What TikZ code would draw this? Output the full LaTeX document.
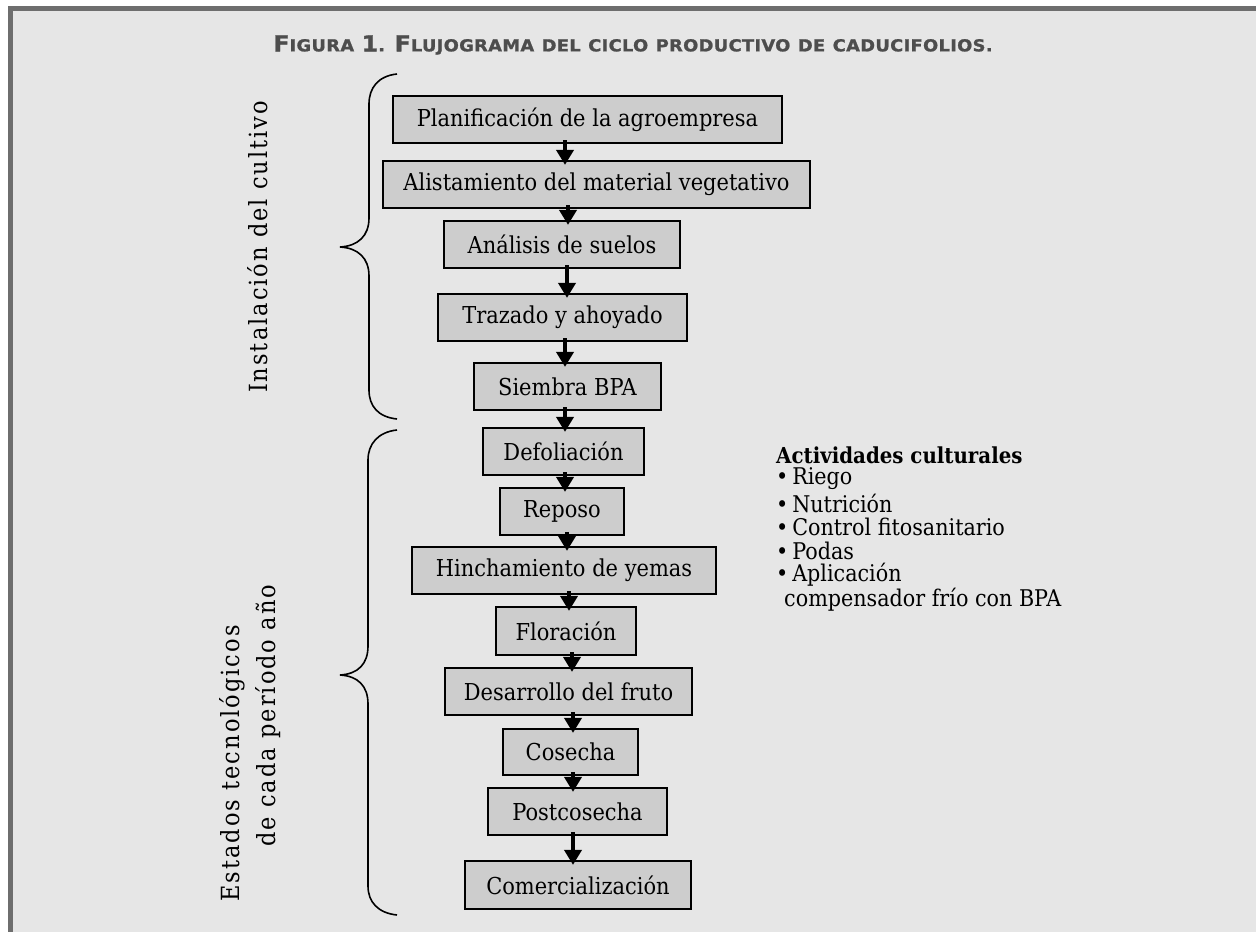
\documentclass[tikz,border=0pt]{standalone}
\usepackage{fontspec}
\setmainfont{DejaVu Serif}[FakeStretch=0.9]
\newfontfamily\titlefont{DejaVu Sans Bold}[FakeStretch=1.08,FakeBold=1.2,LetterSpace=2]
\newfontfamily\sidefont{DejaVu Serif}[FakeStretch=0.9,LetterSpace=8]
\usetikzlibrary{arrows.meta}
\definecolor{bg}{HTML}{E6E6E6}
\definecolor{framec}{HTML}{6E6E6E}
\definecolor{boxfill}{HTML}{CDCDCD}
\definecolor{titlec}{HTML}{4D4D4D}
\newcommand\tcap[1]{{\fontsize{22}{22}\selectfont #1}}
\begin{document}
\begin{tikzpicture}[x=1pt,y=-1pt,
  fbox/.style={draw=black, line width=2.2pt, fill=boxfill, inner sep=0pt,
    minimum height=47pt, font=\fontsize{23.3}{26}\selectfont},
  arr/.style={line width=4.5pt, -{Triangle[width=17pt,length=15pt]}},
  brace/.style={line width=1.6pt},
  side/.style={font=\sidefont\fontsize{25}{28}\selectfont, rotate=90},
  act/.style={anchor=west, inner sep=0pt, font=\fontsize{23}{26}\selectfont}]
\useasboundingbox (0,0) rectangle (1256,932);
\fill[white] (0,0) rectangle (1256,932);
\fill[bg] (8,6) rectangle (1256,932);
\fill[framec] (8,6) rectangle (1256,11);
\fill[framec] (8,6) rectangle (13,932);
% title
\node[text=titlec, font=\titlefont\fontsize{16.5}{16.5}\selectfont] (title) at (633,45)
  {\tcap{F}IGURA\hspace{1pt} \tcap{1}.\hspace{1pt} \tcap{F}LUJOGRAMA\hspace{1pt} DEL\hspace{1pt} CICLO\hspace{1pt} PRODUCTIVO\hspace{1pt} DE\hspace{1pt} CADUCIFOLIOS.};
% boxes
\node[fbox, minimum width=389pt] (b1) at (587.5,119.5) {Planificación de la agroempresa};
\node[fbox, minimum width=427pt] (b2) at (596.5,184.5) {Alistamiento del material vegetativo};
\node[fbox, minimum width=236pt] (b3) at (562,244.5) {Análisis de suelos};
\node[fbox, minimum width=249pt] (b4) at (562.5,317.5) {Trazado y ahoyado};
\node[fbox, minimum width=187pt] (b5) at (567.5,386.5) {Siembra BPA};
\node[fbox, minimum width=161pt] (b6) at (563.5,451.5) {Defoliación};
\node[fbox, minimum width=124pt] (b7) at (562,511.5) {Reposo};
\node[fbox, minimum width=304pt] (b8) at (564,570.5) {Hinchamiento de yemas};
\node[fbox, minimum width=140pt, minimum height=48pt] (b9) at (566,631) {Floración};
\node[fbox, minimum width=247pt] (b10) at (568.5,691.5) {Desarrollo del fruto};
\node[fbox, minimum width=135pt, minimum height=46pt] (b11) at (570.5,752) {Cosecha};
\node[fbox, minimum width=179pt] (b12) at (577.5,811.5) {Postcosecha};
\node[fbox, minimum width=226pt, minimum height=48pt] (b13) at (578,885) {Comercialización};
% arrows
\draw[arr] ([yshift=4pt]b1.south -| 565,0) -- ([yshift=-5pt]b2.north -| 565,0);
\draw[arr] ([yshift=4pt]b2.south -| 568,0) -- ([yshift=-5pt]b3.north -| 568,0);
\draw[arr] ([yshift=4pt]b3.south -| 567,0) -- ([yshift=-5pt]b4.north -| 567,0);
\draw[arr] ([yshift=4pt]b4.south -| 565,0) -- ([yshift=-5pt]b5.north -| 565,0);
\draw[arr] ([yshift=4pt]b5.south -| 565,0) -- ([yshift=-5pt]b6.north -| 565,0);
\draw[arr] ([yshift=4pt]b6.south -| 565,0) -- ([yshift=-5pt]b7.north -| 565,0);
\draw[arr] ([yshift=4pt]b7.south -| 567,0) -- ([yshift=-5pt]b8.north -| 567,0);
\draw[arr] ([yshift=4pt]b8.south -| 569,0) -- ([yshift=-5pt]b9.north -| 569,0);
\draw[arr] ([yshift=4pt]b9.south -| 572,0) -- ([yshift=-5pt]b10.north -| 572,0);
\draw[arr] ([yshift=4pt]b10.south -| 573,0) -- ([yshift=-5pt]b11.north -| 573,0);
\draw[arr] ([yshift=4pt]b11.south -| 573,0) -- ([yshift=-5pt]b12.north -| 573,0);
\draw[arr] ([yshift=4pt]b12.south -| 573,0) -- ([yshift=-5pt]b13.north -| 573,0);
% braces
\draw[brace] (397,74) .. controls (378,76) and (369,88) .. (369,104) -- (369,218)
  .. controls (369,236) and (358,246) .. (340,247)
  .. controls (358,248) and (369,258) .. (369,276) -- (369,390)
  .. controls (369,406) and (378,417) .. (397,419);
\draw[brace] (397,430) .. controls (378,432) and (368,444) .. (368,460) -- (368,646)
  .. controls (368,664) and (358,674) .. (340,675)
  .. controls (358,676) and (368,686) .. (368,704) -- (368,886)
  .. controls (368,902) and (378,913) .. (397,915);
% side labels
\node[side] (s1) at (258,247) {Instalación del cultivo};
\node[side, anchor=west] (s2) at (232,905) {Estados tecnológicos};
\node[side, anchor=west] (s3) at (268,850) {de cada período año};
% activities
\node[act, font=\fontsize{22}{26}\selectfont\bfseries] (a0) at (776,455) {Actividades culturales};
\node[act] (a1) at (776,479) {\textbullet\,Riego};
\node[act] (a2) at (776,503) {\textbullet\,Nutrición};
\node[act] (a3) at (776,527) {\textbullet\,Control fitosanitario};
\node[act] (a4) at (776,551) {\textbullet\,Podas};
\node[act] (a5) at (776,575) {\textbullet\,Aplicación};
\node[act] (a6) at (784,600) {compensador frío con BPA};
\end{tikzpicture}
\end{document}
